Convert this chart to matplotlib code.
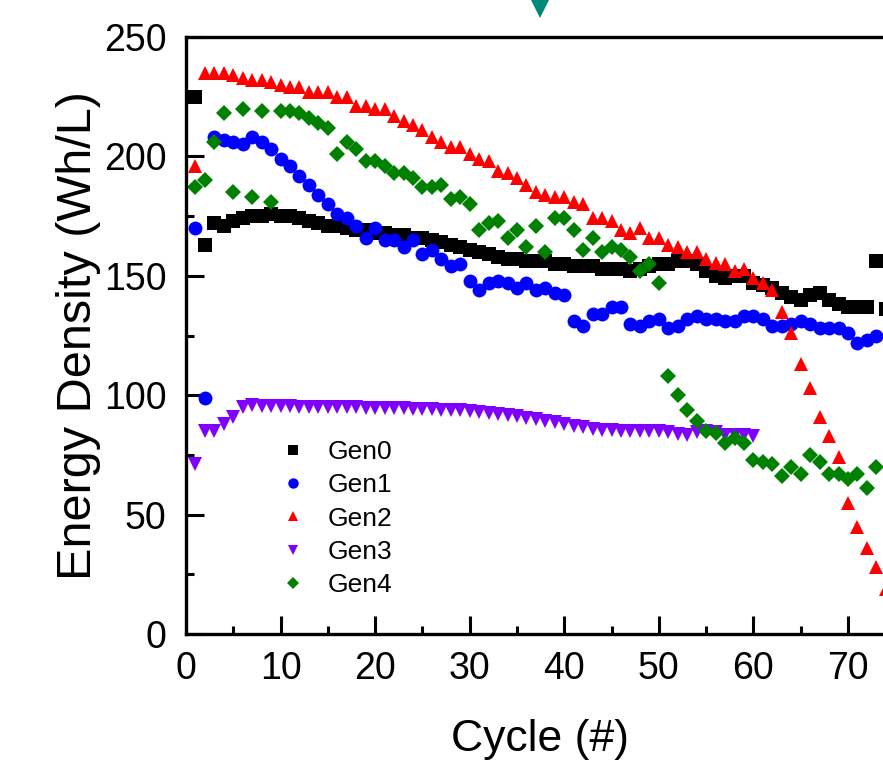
import matplotlib
matplotlib.use("Agg")
import matplotlib.pyplot as plt

plt.rcParams['font.family'] = ['Liberation Sans', 'DejaVu Sans']

gen0 = [225, 163, 172, 171, 173, 174, 175, 175, 176, 175, 175, 174, 173, 172, 171, 171, 170, 169, 169, 168,
        168, 167, 167, 166, 166, 165, 164, 163, 162, 161, 160, 159, 158, 157, 157, 156, 156, 156, 155, 155,
        154, 154, 154, 153, 153, 153, 152, 153, 154, 155, 155, 156, 156, 155, 152, 150, 149, 150, 150, 147,
        146, 145, 143, 141, 140, 142, 143, 140, 138, 137, 137, 137, 156, 136]
gen1 = [170, 99, 208, 207, 206, 205, 208, 206, 203, 199, 196, 192, 188, 184, 180, 176, 174, 171, 166, 170,
        165, 165, 162, 165, 159, 161, 157, 154, 155, 148, 144, 147, 148, 147, 145, 147, 144, 145, 143, 142,
        131, 129, 134, 134, 137, 137, 130, 129, 131, 132, 128, 129, 132, 133, 132, 132, 131, 131, 133, 133,
        132, 129, 129, 130, 131, 130, 128, 128, 128, 126, 122, 123, 125]
gen2 = [196, 235, 235, 235, 234, 233, 232, 232, 231, 230, 229, 229, 227, 227, 227, 225, 225, 221, 221, 220,
        220, 217, 215, 213, 211, 208, 206, 204, 204, 201, 199, 198, 194, 193, 191, 188, 185, 184, 183, 183,
        181, 180, 174, 174, 173, 169, 168, 170, 166, 166, 163, 162, 160, 160, 157, 155.5, 155, 152, 153, 149,
        147, 144, 135, 126, 113, 103, 91, 83, 74, 55, 45, 36, 28, 19]
gen3 = [71, 85, 85, 88, 91, 95, 96, 95.5, 95.5, 95.3, 95.3, 95.2, 95, 95, 95, 95, 95, 95, 94.8, 94.8,
        94.7, 94.6, 94.5, 94.4, 94.3, 94.2, 94, 93.8, 93.6, 93.3, 93, 92.6, 92.2, 91.7, 91.2, 90.6, 90, 89.3, 88.6, 88,
        87.3, 86.5, 86, 85.6, 85.3, 85.1, 85, 85, 84.9, 84.8, 84.5, 83.8, 83.5, 84.5, 85, 84.5, 83.5, 83.5, 83.5, 83]
gen4 = [187, 190, 206, 218, 185, 220, 183, 219, 181, 219, 219, 218, 216, 214, 212, 201, 206, 203, 198, 198,
        196, 193, 193, 191, 187, 187, 188, 182, 183, 180, 169, 172, 173, 166, 169, 162, 171, 160, 174, 174,
        169, 161, 166, 160, 162, 161, 158, 152, 155, 147, 108, 100, 94, 89, 85, 84, 80, 82, 80, 73,
        72, 71, 66, 70, 67, 75, 72, 67, 67, 65, 67, 61, 70]
extra_x = [37.4]
extra_y = [262.5]
x_major = [0, 10, 20, 30, 40, 50, 60, 70]
x_minor = [5, 15, 25, 35, 45, 55, 65, 75]
y_major = [0, 50, 100, 150, 200, 250]
y_minor = [25, 75, 125, 175, 225]

series = [
    ("Gen0", gen0, 's', '#000000', 9.5),
    ("Gen1", gen1, 'o', '#0000FF', 10),
    ("Gen2", gen2, '^', '#FF0000', 10.5),
    ("Gen3", gen3, 'v', '#8000FF', 10.5),
    ("Gen4", gen4, 'D', '#008000', 8.5),
]

fig = plt.figure(figsize=(8.83, 7.63), dpi=100)
ax = fig.add_axes([186 / 883, 129 / 763, 80 * 9.457 / 883, 597 / 763])

for name, vals, mk, col, ms in series:
    xs = list(range(1, len(vals) + 1))
    ax.plot(xs, vals, linestyle='none', marker=mk, color=col, markersize=ms,
            markeredgewidth=0, label=name)

ax.plot(extra_x, extra_y, linestyle='none', marker='v', color='#00897B', markersize=16,
        markeredgewidth=0, clip_on=False)

ax.set_xlim(0, 80)
ax.set_ylim(0, 250)
ax.set_xticks(x_major)
ax.set_xticks(x_minor, minor=True)
ax.set_yticks(y_major)
ax.set_yticks(y_minor, minor=True)
ax.tick_params(which='both', direction='in', width=2.2, labelsize=27)
ax.tick_params(which='major', length=13)
ax.tick_params(which='minor', length=6)
ax.tick_params(axis='y', pad=14)
ax.tick_params(axis='x', pad=12)
for sp in ax.spines.values():
    sp.set_linewidth(2.4)
ax.spines['right'].set_visible(False)

ax.set_xlabel("Cycle (#)", fontsize=32)
ax.xaxis.set_label_coords(0.468, -0.143)
ax.set_ylabel("Energy Density (Wh/L)", fontsize=35, labelpad=2)

leg = ax.legend(loc='upper left', bbox_to_anchor=(0.107, 0.347), frameon=False, fontsize=19,
                handlelength=1.0, handletextpad=0.8, labelspacing=0.35, markerscale=0.75,
                borderpad=0)

fig.savefig("out.png", dpi=100)
